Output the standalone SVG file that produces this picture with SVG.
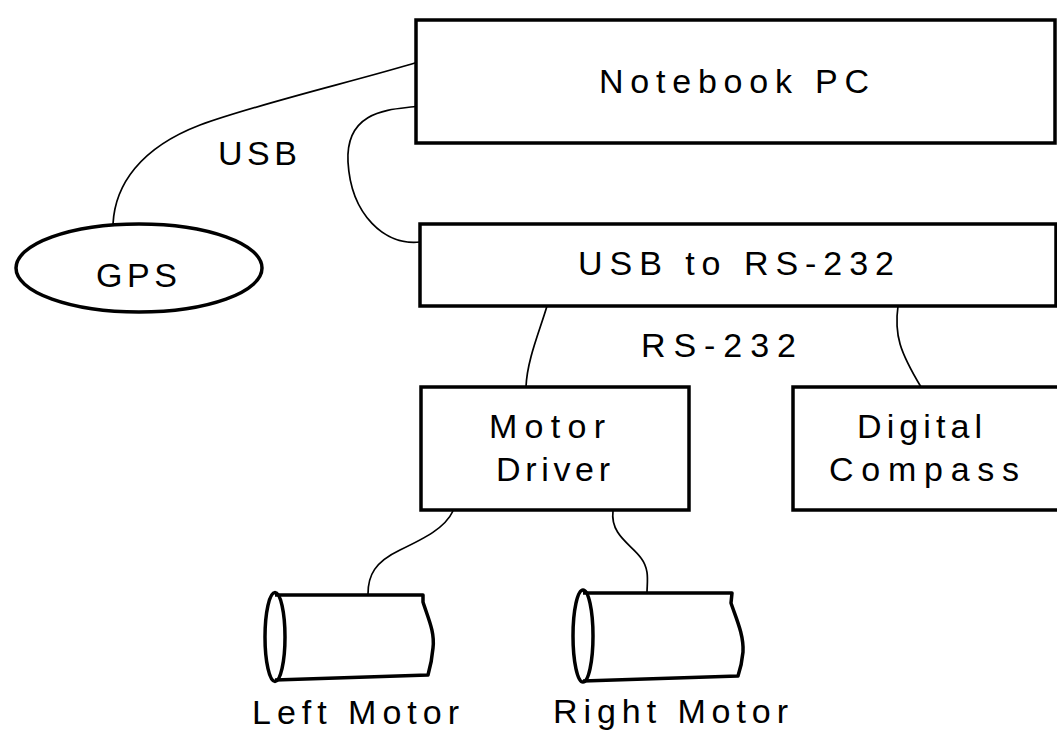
<svg xmlns="http://www.w3.org/2000/svg" width="1057" height="737" viewBox="0 0 1057 737">
<style>
.box{fill:#fff;stroke:#000;stroke-width:3.5}
.cyl{fill:none;stroke:#000;stroke-width:3.5;stroke-linejoin:round}
.wire{fill:none;stroke:#000;stroke-width:1.7}
text{font-family:"Liberation Sans",Arial,sans-serif;font-size:34px;fill:#000}
</style>
<rect width="1057" height="737" fill="#fff"/>
<g id="connectors">
<path class="wire" d="M113,224 C115,185 140,148 200,125 C260,103 360,80 418,62"/>
<path class="wire" d="M418,106 C400,110 345,105 348,162 C351,215 385,246 420,242"/>
<path class="wire" d="M547,306 C540,330 527,360 526,387"/>
<path class="wire" d="M898,306 C894,335 900,352 921,387"/>
<path class="wire" d="M453,511 C445,528 425,538 400,550 C375,562 368,575 368,594"/>
<path class="wire" d="M613,511 C610,535 632,545 641,558 C650,570 647,582 647,593"/>
<text x="218" y="165" textLength="79" lengthAdjust="spacing">USB</text>
<text x="641" y="357" textLength="155" lengthAdjust="spacing">RS-232</text>
</g>
<g id="notebook">
<rect class="box" x="416" y="20" width="639" height="123"/>
<text x="599" y="93" textLength="270" lengthAdjust="spacing">Notebook PC</text>
</g>
<g id="gps">
<ellipse class="box" cx="139" cy="268" rx="123" ry="44"/>
<text x="96" y="287" textLength="81" lengthAdjust="spacing">GPS</text>
</g>
<g id="usb-rs232">
<rect class="box" x="420" y="224" width="636" height="82"/>
<text x="578" y="275" textLength="316" lengthAdjust="spacing">USB to RS-232</text>
</g>
<g id="motor-driver">
<rect class="box" x="421" y="387" width="268" height="123"/>
<text x="489" y="438" textLength="116" lengthAdjust="spacing">Motor</text>
<text x="496" y="481" textLength="114" lengthAdjust="spacing">Driver</text>
</g>
<g id="digital-compass">
<rect class="box" x="793" y="387" width="290" height="123"/>
<text x="857" y="438" textLength="125" lengthAdjust="spacing">Digital</text>
<text x="829" y="481" textLength="190" lengthAdjust="spacing">Compass</text>
</g>
<g id="left-motor">
<path class="cyl" d="M275,595 L423,595 L423,602 C428,618 435,632 433,648 C432,660 430,668 428,675 L275,680"/>
<ellipse class="cyl" cx="275" cy="637" rx="10" ry="44.5"/>
<text x="252" y="724" textLength="207" lengthAdjust="spacing">Left Motor</text>
</g>
<g id="right-motor">
<path class="cyl" d="M583,593 L732,593 L731,603 C736,618 744,635 743,652 C742,663 740,670 738,676 L583,681"/>
<ellipse class="cyl" cx="583" cy="636" rx="10" ry="46"/>
<text x="553" y="723" textLength="235" lengthAdjust="spacing">Right Motor</text>
</g>
</svg>
